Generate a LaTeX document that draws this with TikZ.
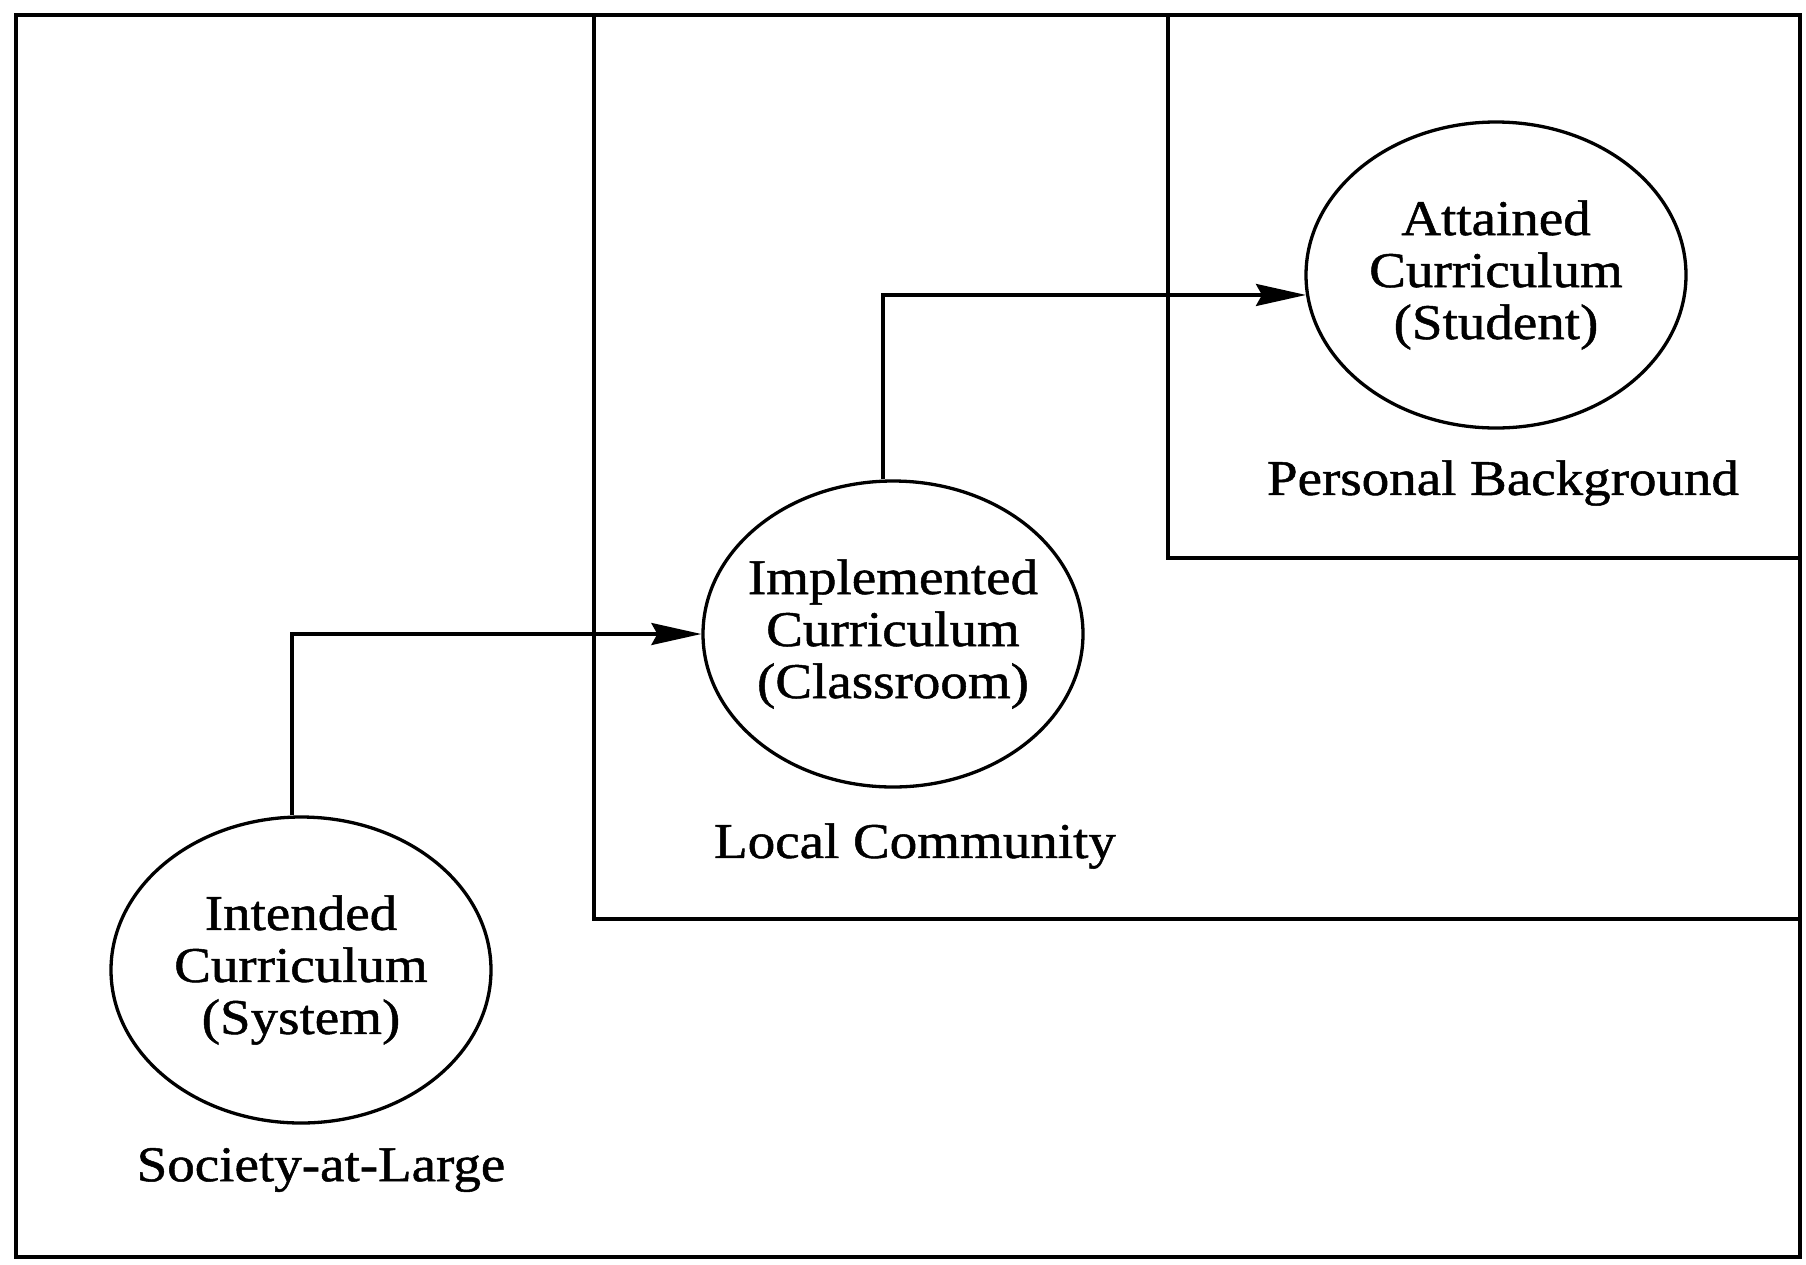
\documentclass[tikz,border=0pt]{standalone}
\usepackage{fontspec}
\setmainfont{Liberation Serif}[FakeStretch=1.1,FakeBold=1]
\usetikzlibrary{shapes.geometric,arrows.meta}
\begin{document}
\begin{tikzpicture}[x=1pt,y=-1pt,
  region/.style={line width=3.8pt},
  curr/.style={draw,ellipse,line width=3.3pt,minimum width=380pt,minimum height=306pt,inner ysep=0pt,inner xsep=-25pt,align=center,
    font=\fontsize{50}{52}\selectfont},
  lbl/.style={font=\fontsize{50}{52}\selectfont,inner sep=0pt},
  arr/.style={line width=3.3pt,-{Stealth[length=50pt,width=22pt,inset=6pt]}}]
\useasboundingbox (0,0) rectangle (1806,1264);
% regions
\draw[region] (16,15) rectangle (1800,1257);
\draw[region] (594,15) -- (594,919) -- (1800,919);
\draw[region] (1168,15) -- (1168,558) -- (1800,558);
% curricula
\node[curr] (intended) at (301,970) {Intended\\Curriculum\\(System)};
\node[curr] (implemented) at (893,634) {Implemented\\Curriculum\\(Classroom)};
\node[curr] (attained) at (1496,275) {Attained\\Curriculum\\(Student)};
% labels
\node[lbl] (society) at (321,1170) {Society-at-Large};
\node[lbl] (local) at (915,846) {Local Community};
\node[lbl] (personal) at (1503,483) {Personal Background};
% connectors
\draw[arr] ([xshift=-9pt]intended.north) |- (implemented.west);
\draw[arr] ([xshift=-10pt]implemented.north) |- (attained.186);
\end{tikzpicture}
\end{document}
